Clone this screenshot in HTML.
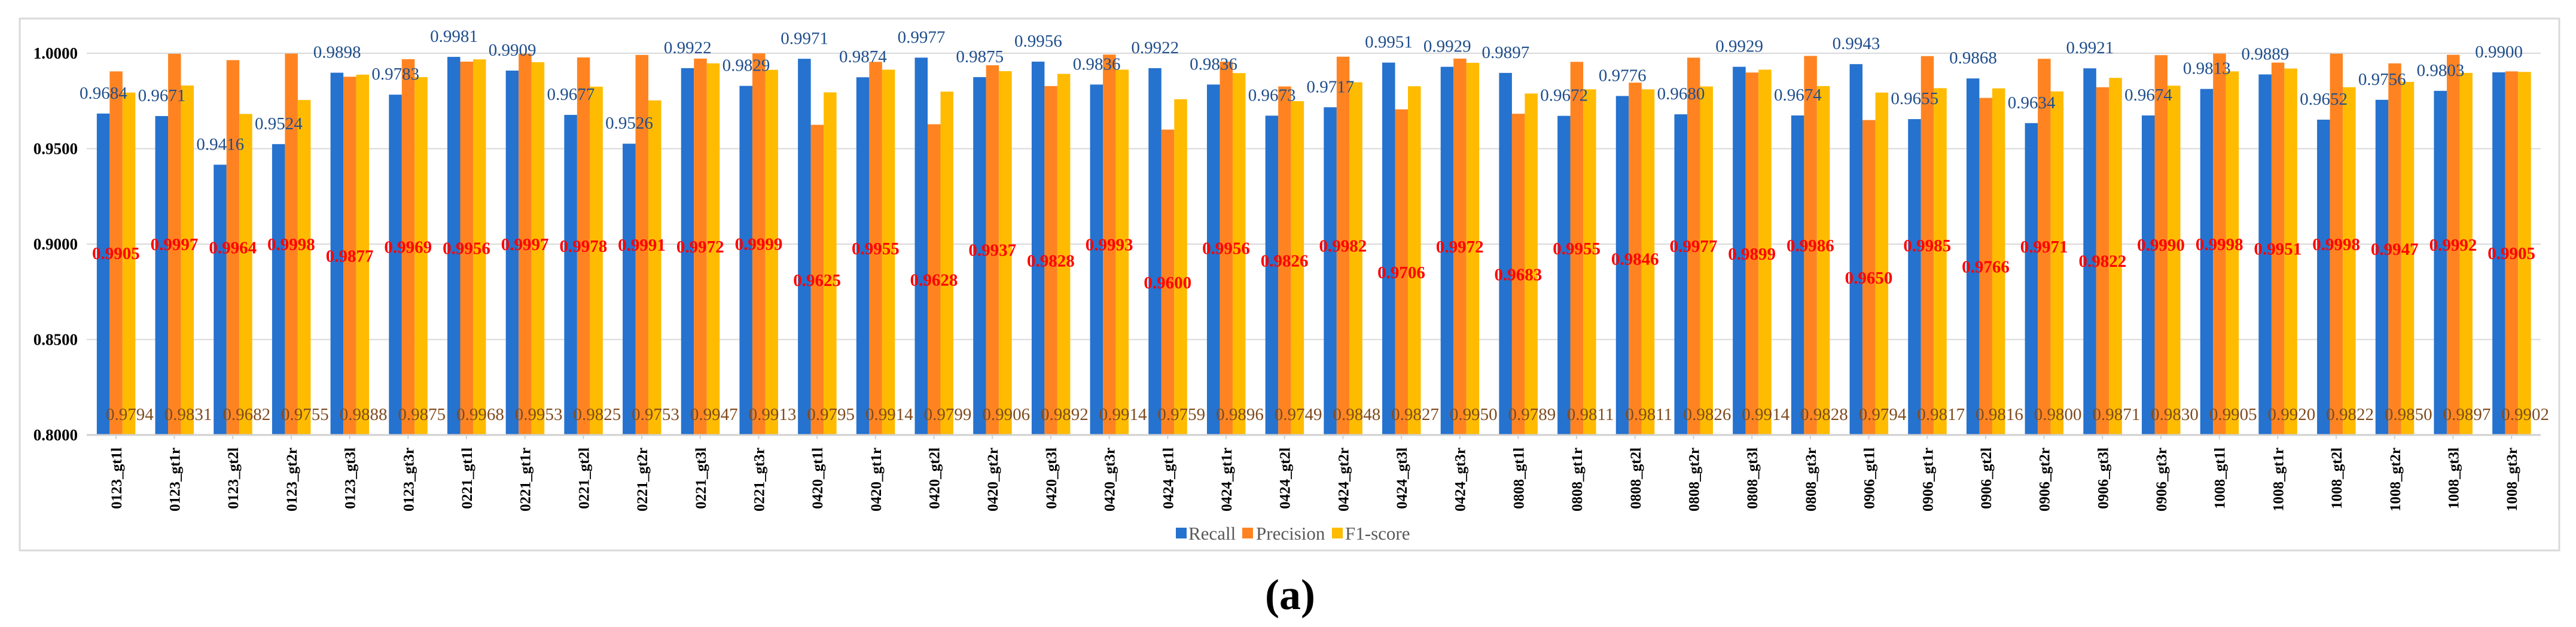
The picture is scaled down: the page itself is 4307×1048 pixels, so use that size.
<!DOCTYPE html>
<html><head><meta charset="utf-8"><style>
html,body{margin:0;padding:0;background:#fff;}
svg{display:block;font-family:"Liberation Serif",serif;}
</style></head><body>
<svg id="chart" width="4307" height="1048" viewBox="0 0 4307 1048">
<rect x="33" y="31" width="4246" height="889" fill="#fff" stroke="#d9d9d9" stroke-width="3"/>
<g id="grid"></g><g id="bars"></g><g id="labels"></g><g id="xaxis"></g><g id="yaxis"></g>
<g>
<rect x="1966" y="882" width="18" height="18" fill="#2572CF"/>
<text x="1987" y="902" font-size="31" fill="#595959">Recall</text>
<rect x="2077" y="882" width="18" height="18" fill="#FF8421"/>
<text x="2100" y="902" font-size="31" fill="#595959">Precision</text>
<rect x="2227" y="882" width="18" height="18" fill="#FFBB00"/>
<text x="2249" y="902" font-size="31" fill="#595959">F1-score</text>
</g>
<text x="2157" y="1018" font-size="72" font-weight="bold" text-anchor="middle" fill="#000">(a)</text>
</svg>
<script>
const categories = ["0123_gt1l","0123_gt1r","0123_gt2l","0123_gt2r","0123_gt3l","0123_gt3r","0221_gt1l","0221_gt1r","0221_gt2l","0221_gt2r","0221_gt3l","0221_gt3r","0420_gt1l","0420_gt1r","0420_gt2l","0420_gt2r","0420_gt3l","0420_gt3r","0424_gt1l","0424_gt1r","0424_gt2l","0424_gt2r","0424_gt3l","0424_gt3r","0808_gt1l","0808_gt1r","0808_gt2l","0808_gt2r","0808_gt3l","0808_gt3r","0906_gt1l","0906_gt1r","0906_gt2l","0906_gt2r","0906_gt3l","0906_gt3r","1008_gt1l","1008_gt1r","1008_gt2l","1008_gt2r","1008_gt3l","1008_gt3r"];
const recall = [0.9684,0.9671,0.9416,0.9524,0.9898,0.9783,0.9981,0.9909,0.9677,0.9526,0.9922,0.9829,0.9971,0.9874,0.9977,0.9875,0.9956,0.9836,0.9922,0.9836,0.9673,0.9717,0.9951,0.9929,0.9897,0.9672,0.9776,0.9680,0.9929,0.9674,0.9943,0.9655,0.9868,0.9634,0.9921,0.9674,0.9813,0.9889,0.9652,0.9756,0.9803,0.9900];
const precision = [0.9905,0.9997,0.9964,0.9998,0.9877,0.9969,0.9956,0.9997,0.9978,0.9991,0.9972,0.9999,0.9625,0.9955,0.9628,0.9937,0.9828,0.9993,0.9600,0.9956,0.9826,0.9982,0.9706,0.9972,0.9683,0.9955,0.9846,0.9977,0.9899,0.9986,0.9650,0.9985,0.9766,0.9971,0.9822,0.9990,0.9998,0.9951,0.9998,0.9947,0.9992,0.9905];
const f1score = [0.9794,0.9831,0.9682,0.9755,0.9888,0.9875,0.9968,0.9953,0.9825,0.9753,0.9947,0.9913,0.9795,0.9914,0.9799,0.9906,0.9892,0.9914,0.9759,0.9896,0.9749,0.9848,0.9827,0.9950,0.9789,0.9811,0.9811,0.9826,0.9914,0.9828,0.9794,0.9817,0.9816,0.9800,0.9871,0.9830,0.9905,0.9920,0.9822,0.9850,0.9897,0.9902];
const yTicks = [0.80,0.85,0.90,0.95,1.00];
const yTickLabels = ["0.8000","0.8500","0.9000","0.9500","1.0000"];

const NS="http://www.w3.org/2000/svg";
const X0=145, X1=4248, Y0=727, Y1=89, VMIN=0.8, VMAX=1.0;
const step=(X1-X0)/categories.length;
function xc(i){return X0+step*(i+0.5);}
function yv(v){return Y0-(v-VMIN)/(VMAX-VMIN)*(Y0-Y1);}
function mk(tag,attrs,parent){const e=document.createElementNS(NS,tag);for(const k in attrs)e.setAttribute(k,attrs[k]);parent.appendChild(e);return e;}
const grid=document.getElementById('grid'),bars=document.getElementById('bars'),labels=document.getElementById('labels'),xaxis=document.getElementById('xaxis'),yaxis=document.getElementById('yaxis');

yTicks.forEach((t,i)=>{
  if(i>0){const g=mk('line',{x1:X0,x2:X1,y1:yv(t),y2:yv(t),stroke:'#d9d9d9','stroke-width':2},grid);
  
  }
  const tx=mk('text',{x:130,y:yv(t)+9,'font-size':27,'font-weight':'bold','text-anchor':'end',fill:'#000'},yaxis);
  tx.textContent=yTickLabels[i];
  
  
});
const ax=mk('line',{x1:X0,x2:X1,y1:Y0,y2:Y0,stroke:'#d0d0d0','stroke-width':3},xaxis);



const series=[[recall,'#2572CF',-32],[precision,'#FF8421',-10.5],[f1score,'#FFBB00',11]];
categories.forEach((c,i)=>{
  const cx=xc(i);
  series.forEach(([arr,col,off],s)=>{
    const r=mk('rect',{x:cx+off,y:yv(arr[i]),width:21.5,height:Y0-yv(arr[i]),fill:col},bars);
    
    
  });
  const tk=mk('line',{x1:cx,x2:cx,y1:Y0,y2:Y0+7,stroke:'#d0d0d0','stroke-width':2},xaxis);
  
  
  const cl=mk('text',{x:0,y:0,'font-size':25,'font-weight':'bold','text-anchor':'end',fill:'#000',transform:`translate(${cx+9},748) rotate(-90)`},xaxis);
  cl.textContent=c;
  
  
  const lr=mk('text',{x:cx-21,y:yv(recall[i])-25,'font-size':29,'text-anchor':'middle',fill:'#1F4E8C'},labels);
  lr.textContent=recall[i].toFixed(4);
  
  
  const lp=mk('text',{x:cx,y:408-(precision[i]-0.9997)*1613+10,'font-size':29,'font-weight':'bold','text-anchor':'middle',fill:'#FF0000'},labels);
  lp.textContent=precision[i].toFixed(4);
  
  
  const lf=mk('text',{x:cx+23,y:702,'font-size':29,'text-anchor':'middle',fill:'#7F4A1E'},labels);
  lf.textContent=f1score[i].toFixed(4);
  
  
});
</script>
</body></html>
